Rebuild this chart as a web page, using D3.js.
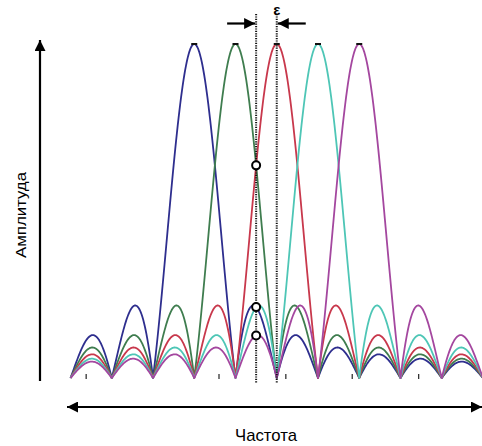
<!DOCTYPE html>
<html>
<head>
<meta charset="utf-8">
<script src="https://cdn.jsdelivr.net/npm/d3@7"></script>
<style>
  body { margin: 0; background: #fff; }
  svg { display: block; }
</style>
</head>
<body>
<svg id="chart" width="482" height="446"></svg>
<script>
// OFDM subcarrier spectra with frequency offset epsilon

// subcarrier centres, in units of the subcarrier spacing
var carrierCenters = [0, 1, 2, 3, 4];
var carrierColors = ["#2e2e8e", "#3f7d4f", "#c8384c", "#4ec6b6", "#a4479f"];
var freqDomain = [-3, 7];
// sample point where the receiver looks (half a spacing off the red carrier)
var sampleFreq = 1.5;
var offsetRef = 2;
// little marks on the baseline
var baseTicks = [-2.62, 0.6, 2.22, 3.83, 5.44];
var xLabel = "Частота";
var yLabel = "Амплитуда";
var epsLabel = "ε";

var svg = d3.select("#chart");

var x = d3.scaleLinear().domain(freqDomain).range([70.5, 483]);
var y = d3.scaleLinear().domain([0, 1]).range([378, 44]);

function sinc(v) {
	if (Math.abs(v) < 1e-9) return 1;
	return Math.sin(Math.PI * v) / (Math.PI * v);
}

var defs = svg.append("defs");
defs.append("marker")
	.attr("id", "head")
	.attr("viewBox", "0 0 10 10")
	.attr("refX", 10)
	.attr("refY", 5)
	.attr("markerUnits", "userSpaceOnUse")
	.attr("markerWidth", 13)
	.attr("markerHeight", 11)
	.attr("orient", "auto-start-reverse")
	.append("path")
	.attr("d", "M0,0 L10,5 L0,10 Z")
	.attr("fill", "#000");

// axis arrows
svg.append("line")
	.attr("x1", 40).attr("y1", 381)
	.attr("x2", 40).attr("y2", 40)
	.attr("stroke", "#000").attr("stroke-width", 2.2)
	.attr("marker-end", "url(#head)");

svg.append("line")
	.attr("x1", 67).attr("y1", 407)
	.attr("x2", 482).attr("y2", 407)
	.attr("stroke", "#000").attr("stroke-width", 2.2)
	.attr("marker-start", "url(#head)")
	.attr("marker-end", "url(#head)");

// baseline ticks
svg.append("g").selectAll("line")
	.data(baseTicks)
	.enter()
	.append("line")
	.attr("x1", function(d) { return x(d); })
	.attr("x2", function(d) { return x(d); })
	.attr("y1", 374)
	.attr("y2", 379)
	.attr("stroke", "#333")
	.attr("stroke-width", 1.3);

// spectra
var samples = d3.range(0, 501).map(function(i) { return freqDomain[0] + i * 0.02; });
var line = d3.line()
	.x(function(d) { return x(d[0]); })
	.y(function(d) { return y(d[1]); });

var curves = svg.append("g");
carrierCenters.forEach(function(c, i) {
	var pts = samples.map(function(f) { return [f, Math.abs(sinc(f - c))]; });
	curves.append("path")
		.attr("d", line(pts))
		.attr("fill", "none")
		.attr("stroke", carrierColors[i])
		.attr("stroke-width", 1.8)
		.attr("stroke-linejoin", "round");
});

// dashes on peaks
svg.append("g").selectAll("line")
	.data(carrierCenters)
	.enter()
	.append("line")
	.attr("x1", function(d) { return x(d) - 3; })
	.attr("x2", function(d) { return x(d) + 3; })
	.attr("y1", y(1))
	.attr("y2", y(1))
	.attr("stroke", "#111")
	.attr("stroke-width", 2);

// dotted verticals
svg.append("g").selectAll("line")
	.data([sampleFreq, offsetRef])
	.enter()
	.append("line")
	.attr("x1", function(d) { return x(d); })
	.attr("x2", function(d) { return x(d); })
	.attr("y1", 14)
	.attr("y2", 383)
	.attr("stroke", "#111")
	.attr("stroke-width", 2)
	.attr("stroke-dasharray", "1.2,1.2");

// circles where the carriers cross the sample line
var levels = [];
carrierCenters.forEach(function(c) {
	var v = Math.abs(sinc(sampleFreq - c));
	if (!levels.some(function(l) { return Math.abs(l - v) < 0.01; })) levels.push(v);
});
svg.append("g").selectAll("circle")
	.data(levels)
	.enter()
	.append("circle")
	.attr("cx", x(sampleFreq))
	.attr("cy", function(d) { return y(d); })
	.attr("r", 4)
	.attr("fill", "#fff")
	.attr("stroke", "#000")
	.attr("stroke-width", 2);

// epsilon arrows
svg.append("line")
	.attr("x1", x(sampleFreq) - 29).attr("y1", 23.5)
	.attr("x2", x(sampleFreq) - 1).attr("y2", 23.5)
	.attr("stroke", "#000").attr("stroke-width", 2.2)
	.attr("marker-end", "url(#head)");
svg.append("line")
	.attr("x1", x(offsetRef) + 29).attr("y1", 23.5)
	.attr("x2", x(offsetRef) + 1).attr("y2", 23.5)
	.attr("stroke", "#000").attr("stroke-width", 2.2)
	.attr("marker-end", "url(#head)");

svg.append("text")
	.attr("x", x(offsetRef))
	.attr("y", 15)
	.attr("text-anchor", "middle")
	.style("font-family", "Liberation Sans, Arial, sans-serif")
	.style("font-size", "15px")
	.style("font-weight", "bold")
	.text(epsLabel);

// axis labels
svg.append("text")
	.attr("x", 266)
	.attr("y", 441)
	.attr("text-anchor", "middle")
	.attr("textLength", 62)
	.attr("lengthAdjust", "spacingAndGlyphs")
	.style("font-family", "Liberation Sans, Arial, sans-serif")
	.style("font-size", "17px")
	.text(xLabel);

svg.append("text")
	.attr("transform", "translate(26, 215) rotate(-90)")
	.attr("text-anchor", "middle")
	.attr("textLength", 86)
	.attr("lengthAdjust", "spacingAndGlyphs")
	.style("font-family", "Liberation Sans, Arial, sans-serif")
	.style("font-size", "15.5px")
	.text(yLabel);
</script>
</body>
</html>
